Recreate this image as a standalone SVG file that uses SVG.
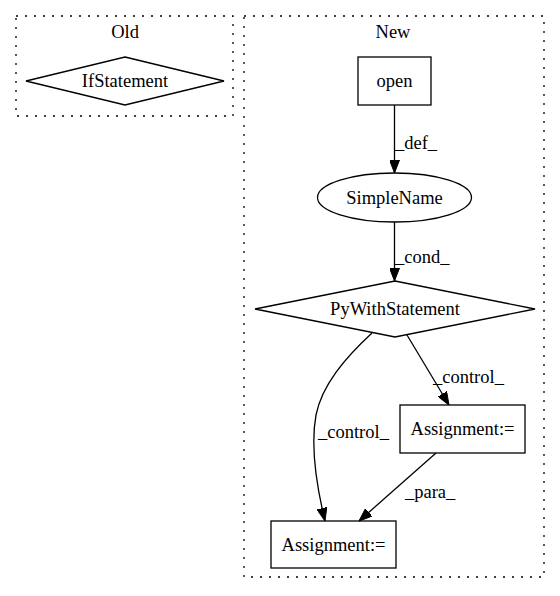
<svg xmlns="http://www.w3.org/2000/svg" width="560" height="596" viewBox="0 0 560 596">
<style>
text{font-family:"Liberation Serif","Times New Roman",serif;font-size:18.5px;fill:#000;text-anchor:middle}
.cl{fill:none;stroke:#000;stroke-dasharray:2,7;stroke-width:1.3}
.n{fill:none;stroke:#000;stroke-width:1.3}
.e{fill:none;stroke:#000;stroke-width:1.3}
.lbl{text-anchor:start}
</style>
<defs>
<marker id="ah" markerWidth="13" markerHeight="10" refX="13" refY="5" orient="auto" markerUnits="userSpaceOnUse">
<path d="M0,0 L13,5 L0,10 Z" fill="#000" stroke="#000"/>
</marker>
</defs>
<rect width="560" height="596" fill="#fff"/>
<g id="cluster_old">
<rect class="cl" x="16" y="16" width="217" height="100"/>
<text x="125" y="38">Old</text>
</g>
<g id="cluster_new">
<rect class="cl" x="244" y="16" width="300" height="561"/>
<text x="393" y="38">New</text>
</g>
<g id="ifstatement">
<polygon class="n" points="125,57 224,81 125,105 26,81"/>
<text x="125" y="87">IfStatement</text>
</g>
<g id="open">
<rect class="n" x="358" y="57" width="73" height="48"/>
<text x="394.5" y="87">open</text>
</g>
<g id="simplename">
<ellipse class="n" cx="394.5" cy="197.5" rx="77" ry="24.5"/>
<text x="394.5" y="203.5">SimpleName</text>
</g>
<g id="pywith">
<polygon class="n" points="395,281 535,309 395,337 255,309"/>
<text x="395" y="315">PyWithStatement</text>
</g>
<g id="assign1">
<rect class="n" x="400" y="405" width="125" height="48"/>
<text x="462.5" y="435">Assignment:=</text>
</g>
<g id="assign2">
<rect class="n" x="271" y="521" width="125" height="47"/>
<text x="333.5" y="550.5">Assignment:=</text>
</g>
<g id="edges">
<path class="e" d="M394.5,105 L394.5,173" marker-end="url(#ah)"/>
<text class="lbl" x="395" y="149">_def_</text>
<path class="e" d="M394.5,222 L394.5,281" marker-end="url(#ah)"/>
<text class="lbl" x="395" y="263">_cond_</text>
<path class="e" d="M407,335 L449,405" marker-end="url(#ah)"/>
<text class="lbl" x="433" y="383">_control_</text>
<path class="e" d="M372,333 C345,358 322,385 316,415 C310,448 317,488 325,521" marker-end="url(#ah)"/>
<text class="lbl" x="318" y="438">_control_</text>
<path class="e" d="M436,453 L359,521" marker-end="url(#ah)"/>
<text class="lbl" x="405" y="498">_para_</text>
</g>
</svg>
